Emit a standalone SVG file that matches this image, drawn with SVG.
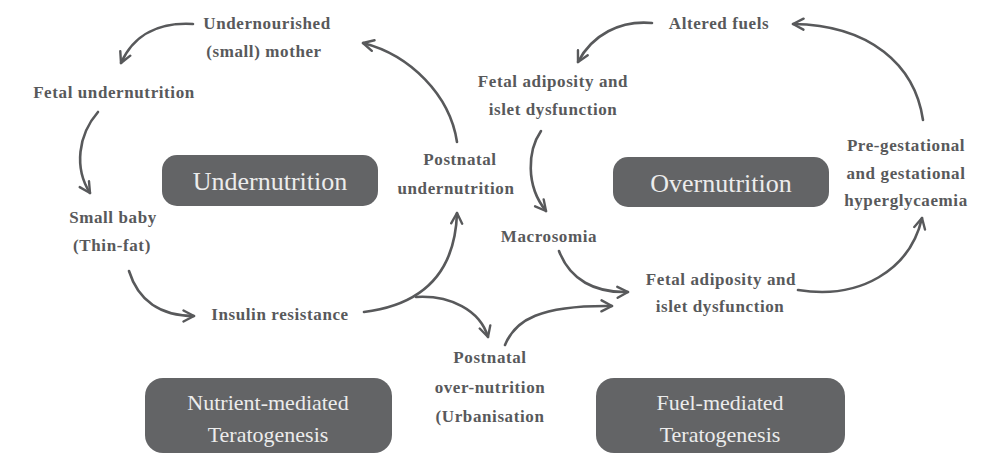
<svg xmlns="http://www.w3.org/2000/svg" width="986" height="455" viewBox="0 0 986 455">
<defs>
<marker id="ah" viewBox="0 0 14 14" refX="12" refY="7" markerWidth="14" markerHeight="14" markerUnits="userSpaceOnUse" orient="auto">
<path d="M1.5,1.5 L12,7 L1.5,12.5" fill="none" stroke="#58595b" stroke-width="2.4" stroke-linecap="round" stroke-linejoin="round"/>
</marker>
<style>
.lbl{font-family:"Liberation Serif","DejaVu Serif",serif;font-size:17px;font-weight:bold;letter-spacing:0.6px;fill:#58595b;text-anchor:middle}
.box{fill:#636466}
.bt{font-family:"Liberation Serif","DejaVu Serif",serif;font-size:26px;fill:#ececec;text-anchor:middle}
.bt2{font-family:"Liberation Serif","DejaVu Serif",serif;font-size:22px;fill:#ececec;text-anchor:middle}
.c{fill:none;stroke:#58595b;stroke-width:2.6;stroke-linecap:round;marker-end:url(#ah)}
</style>
</defs>
<rect width="986" height="455" fill="#ffffff"/>
<g id="box-undernutrition"><rect class="box" x="162" y="155" width="216" height="51" rx="15"/><text class="bt" x="270" y="190">Undernutrition</text></g>
<g id="box-overnutrition"><rect class="box" x="613" y="157" width="216" height="50" rx="15"/><text class="bt" x="721" y="192">Overnutrition</text></g>
<g id="box-nutrient"><rect class="box" x="145" y="378" width="247" height="75" rx="18"/><text class="bt2" x="268" y="410">Nutrient-mediated</text><text class="bt2" x="268" y="442">Teratogenesis</text></g>
<g id="box-fuel"><rect class="box" x="596" y="378" width="249" height="75" rx="18"/><text class="bt2" x="720" y="410">Fuel-mediated</text><text class="bt2" x="720" y="442">Teratogenesis</text></g>
<g id="n-mother"><text class="lbl" x="267" y="29">Undernourished</text><text class="lbl" x="264" y="57">(small) mother</text></g>
<g id="n-fetal-under"><text class="lbl" x="114" y="98">Fetal undernutrition</text></g>
<g id="n-small-baby"><text class="lbl" x="113" y="223">Small baby</text><text class="lbl" x="112" y="251">(Thin-fat)</text></g>
<g id="n-insulin"><text class="lbl" x="280" y="320">Insulin resistance</text></g>
<g id="n-post-under"><text class="lbl" x="460" y="165">Postnatal</text><text class="lbl" x="456" y="194">undernutrition</text></g>
<g id="n-post-over"><text class="lbl" x="490" y="363">Postnatal</text><text class="lbl" x="490" y="393">over-nutrition</text><text class="lbl" x="490" y="422">(Urbanisation</text></g>
<g id="n-altered"><text class="lbl" x="719" y="29">Altered fuels</text></g>
<g id="n-fetal-adip1"><text class="lbl" x="553" y="87">Fetal adiposity and</text><text class="lbl" x="553" y="115">islet dysfunction</text></g>
<g id="n-macro"><text class="lbl" x="549" y="242">Macrosomia</text></g>
<g id="n-fetal-adip2"><text class="lbl" x="721" y="285">Fetal adiposity and</text><text class="lbl" x="720" y="312">islet dysfunction</text></g>
<g id="n-pregest"><text class="lbl" x="906" y="151">Pre-gestational</text><text class="lbl" x="906" y="179">and gestational</text><text class="lbl" x="906" y="206">hyperglycaemia</text></g>
<g id="connectors">
<path class="c" d="M193,24 C160,22 134,34 121,63"/>
<path class="c" d="M98,112 C78,135 74,168 90,193"/>
<path class="c" d="M129,271 C138,300 160,316 194,316"/>
<path class="c" d="M364,312 C420,305 455,275 457,213"/>
<path class="c" d="M416,297 C450,295 480,310 488,337"/>
<path class="c" d="M457,142 C450,95 410,55 363,43"/>
<path class="c" d="M652,23 C620,20 592,35 578,62"/>
<path class="c" d="M923,120 C915,65 870,25 793,24"/>
<path class="c" d="M541,131 C528,150 525,185 546,211"/>
<path class="c" d="M559,251 C570,280 595,293 628,292"/>
<path class="c" d="M505,345 C515,320 540,305 612,306"/>
<path class="c" d="M798,290 C860,300 910,270 922,218"/>
</g>
</svg>
